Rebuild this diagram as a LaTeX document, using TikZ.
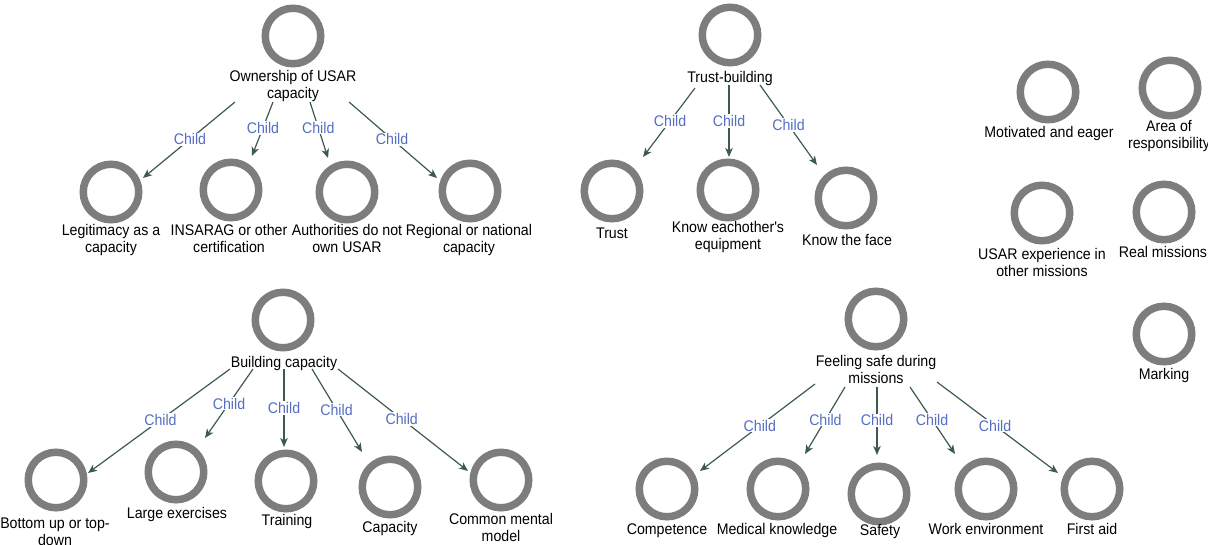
\documentclass[tikz,border=0pt]{standalone}
\usepackage{fontspec}
\newfontfamily\labfam{Liberation Sans}[FakeStretch=0.92]
\usetikzlibrary{arrows.meta}
\definecolor{ringgray}{RGB}{125,125,125}
\definecolor{edgecol}{RGB}{60,90,80}
\definecolor{childblue}{RGB}{84,110,196}
\begin{document}
\begin{tikzpicture}[x=1pt,y=-1pt,
  ring/.style={circle,draw=ringgray,line width=7.5pt,minimum size=55.5pt,inner sep=0pt},
  lab/.style={anchor=north,inner sep=0pt,align=center,font=\labfam\fontsize{15.4}{17}\selectfont,execute at begin node=\strut},
  edge/.style={draw=edgecol,line width=1.2pt,-{Stealth[length=9pt,width=7.5pt,inset=2.5pt]}},
  elab/.style={fill=white,inner sep=1pt,text=childblue,font=\labfam\fontsize{15.4}{17}\selectfont}]
\useasboundingbox (0,0) rectangle (1208,544);
\clip (0,0) rectangle (1208,544);

% ---- Ownership group
\node[ring] (own) at (293,36) {};
\node[lab] (ownL) at (293,70.5) {Ownership of USAR\\capacity};
\node[ring] (leg) at (111,192) {};
\node[lab] (legL) at (111,224.5) {Legitimacy as a\\capacity};
\node[ring] (ins) at (231,190) {};
\node[lab] (insL) at (229,224.5) {INSARAG or other\\certification};
\node[ring] (aut) at (347,192) {};
\node[lab] (autL) at (347,224.5) {Authorities do not\\own USAR};
\node[ring] (reg) at (470,191) {};
\node[lab] (regL) at (469,224.5) {Regional or national\\capacity};

\draw[edge] ([shift={(-58,66)}]own.center) -- node[elab,pos=0.49] (a1) {Child} ([shift={(32,-14)}]leg.center);
\draw[edge] ([shift={(-20,66)}]own.center) -- node[elab,pos=0.48] (a2) {Child} ([shift={(21,-34)}]ins.center);
\draw[edge] ([shift={(17,66)}]own.center) -- node[elab,pos=0.46] (a3) {Child} ([shift={(-19,-34)}]aut.center);
\draw[edge] ([shift={(56,66)}]own.center) -- node[elab,pos=0.49] (a4) {Child} ([shift={(-33,-13)}]reg.center);

% ---- Trust-building group
\node[ring] (tb) at (730,35) {};
\node[lab] (tbL) at (730,70.5) {Trust-building};
\node[ring] (tru) at (612,191) {};
\node[lab] (truL) at (612,226.5) {Trust};
\node[ring] (kee) at (728,190) {};
\node[lab] (keeL) at (728,221.5) {Know eachother's\\equipment};
\node[ring] (kf) at (846,198) {};
\node[lab] (kfL) at (847,233.5) {Know the face};

\draw[edge] ([shift={(-35,53)}]tb.center) -- node[elab,pos=0.48] (t1) {Child} ([shift={(31,-34)}]tru.center);
\draw[edge] ([shift={(-1,50)}]tb.center) -- node[elab,pos=0.5] (t2) {Child} ([shift={(1,-33)}]kee.center);
\draw[edge] ([shift={(30,50)}]tb.center) -- node[elab,pos=0.5] (t3) {Child} ([shift={(-29,-33)}]kf.center);

% ---- isolated nodes
\node[ring] (mot) at (1048,92) {};
\node[lab] (motL) at (1049,125.5) {Motivated and eager};
\node[ring] (aor) at (1170,88) {};
\node[lab] (aorL) at (1169,120.5) {Area of\\responsibility};
\node[ring] (uex) at (1042,213) {};
\node[lab] (uexL) at (1042,248.5) {USAR experience in\\other missions};
\node[ring] (rm) at (1164,212) {};
\node[lab] (rmL) at (1163,245.5) {Real missions};
\node[ring] (mk) at (1164,334) {};
\node[lab] (mkL) at (1164,367.5) {Marking};

% ---- Building capacity group
\node[ring] (bc) at (283,320) {};
\node[lab] (bcL) at (284,355.5) {Building capacity};
\node[ring] (bu) at (56,480) {};
\node[lab] (buL) at (55,517.5) {Bottom up or top-\\down};
\node[ring] (le) at (176,472) {};
\node[lab] (leL) at (177,506.5) {Large exercises};
\node[ring] (tr) at (286,481) {};
\node[lab] (trL) at (287,513.5) {Training};
\node[ring] (ca) at (390,487) {};
\node[lab] (caL) at (390,520.5) {Capacity};
\node[ring] (cm) at (501,480) {};
\node[lab] (cmL) at (501,513.5) {Common mental\\model};

\draw[edge] ([shift={(-53,49)}]bc.center) -- node[elab,pos=0.49] (b1) {Child} ([shift={(32,-7)}]bu.center);
\draw[edge] ([shift={(-30,49)}]bc.center) -- node[elab,pos=0.5] (b2) {Child} ([shift={(29,-34)}]le.center);
\draw[edge] ([shift={(1,49)}]bc.center) -- node[elab,pos=0.5] (b3) {Child} ([shift={(-2,-34)}]tr.center);
\draw[edge] ([shift={(29,49)}]bc.center) -- node[elab,pos=0.49] (b4) {Child} ([shift={(-28,-35)}]ca.center);
\draw[edge] ([shift={(55,49)}]bc.center) -- node[elab,pos=0.49] (b5) {Child} ([shift={(-33,-9)}]cm.center);

% ---- Feeling safe group
\node[ring] (fs) at (876,319) {};
\node[lab] (fsL) at (876,355.5) {Feeling safe during\\missions};
\node[ring] (co) at (667,489) {};
\node[lab] (coL) at (667,522.5) {Competence};
\node[ring] (mkn) at (778,489) {};
\node[lab] (mknL) at (777,522.5) {Medical knowledge};
\node[ring] (sa) at (879,494) {};
\node[lab] (saL) at (880,523.5) {Safety};
\node[ring] (we) at (986,489) {};
\node[lab] (weL) at (986,522.5) {Work environment};
\node[ring] (fa) at (1092,489) {};
\node[lab] (faL) at (1092,522.5) {First aid};

\draw[edge] ([shift={(-61,65)}]fs.center) -- node[elab,pos=0.48] (f1) {Child} ([shift={(33,-18)}]co.center);
\draw[edge] ([shift={(-31,68)}]fs.center) -- node[elab,pos=0.49] (f2) {Child} ([shift={(27,-35)}]mkn.center);
\draw[edge] ([shift={(1,68)}]fs.center) -- node[elab,pos=0.49] (f3) {Child} ([shift={(-2,-39)}]sa.center);
\draw[edge] ([shift={(34,68)}]fs.center) -- node[elab,pos=0.49] (f4) {Child} ([shift={(-31,-35)}]we.center);
\draw[edge] ([shift={(61,63)}]fs.center) -- node[elab,pos=0.48] (f5) {Child} ([shift={(-34,-16)}]fa.center);
\end{tikzpicture}
\end{document}
